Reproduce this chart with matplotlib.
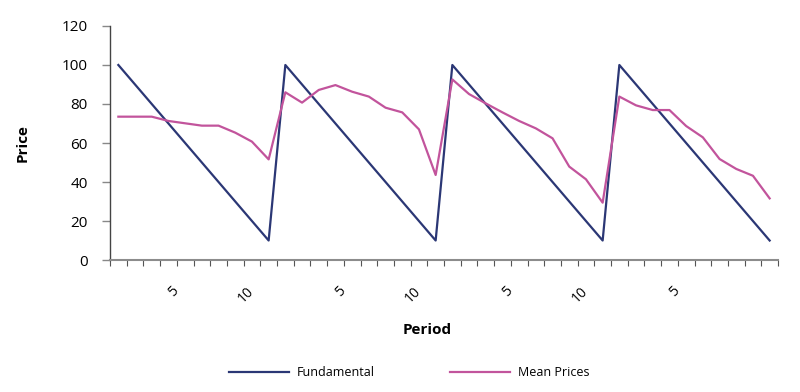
import matplotlib
matplotlib.use("Agg")
import matplotlib.pyplot as plt
from matplotlib.transforms import ScaledTranslation
import numpy as np

plt.rcParams['font.family'] = ['Open Sans', 'DejaVu Sans']

periods = list(range(1, 41))
fundamental = [100, 90, 80, 70, 60, 50, 40, 30, 20, 10] * 4
mean_prices = [73.5, 73.5, 73.5, 71.3, 70.1, 68.9, 68.9, 65.3, 60.7, 51.6,
               86.0, 80.7, 87.2, 89.7, 86.3, 83.8, 78.1, 75.7, 67.0, 43.6,
               92.6, 85.1, 80.3, 75.7, 71.3, 67.5, 62.4, 47.9, 41.4, 29.4,
               83.8, 79.3, 76.9, 76.9, 68.7, 62.9, 51.8, 46.7, 43.2, 31.6]
label_positions = [5, 10, 15, 20, 25, 30, 35]
label_texts = ['5', '10', '5', '10', '5', '10', '5']
y_ticks = [0, 20, 40, 60, 80, 100, 120]

navy = '#2B3775'
pink = '#C2549C'

fig = plt.figure(figsize=(8, 3.92), dpi=100)
ax = fig.add_axes([0.1375, 0.3367, 0.835, 0.597])

ax.plot(periods, fundamental, color=navy, lw=1.6, label='Fundamental')
ax.plot(periods, mean_prices, color=pink, lw=1.6, label='Mean Prices')

ax.set_xlim(0.5, len(periods) + 0.5)
ax.set_ylim(0, 120)
ax.set_yticks(y_ticks)
ax.tick_params(axis='y', labelsize=11, length=6, color='#888888', width=1, pad=10)

ax.set_xticks(label_positions)
ax.set_xticklabels(label_texts, rotation=45, ha='right', va='top', fontsize=10)
ax.tick_params(axis='x', which='major', length=0, pad=0)
ax.set_xticks(np.arange(0.5, len(periods) + 1, 1), minor=True)
ax.tick_params(axis='x', which='minor', length=4, color='#555555', width=0.8, direction='out')

for lab in ax.get_xticklabels():
    n = len(lab.get_text())
    lab.set_transform(lab.get_transform() + ScaledTranslation(-0.08 * n + 0.04, -0.24, fig.dpi_scale_trans))

for s in ['top', 'right']:
    ax.spines[s].set_visible(False)
ax.spines['left'].set_color('#444444')
ax.spines['left'].set_linewidth(1.0)
ax.spines['bottom'].set_color('#8c8c8c')
ax.spines['bottom'].set_linewidth(1.5)

fig.text(0.028, 0.3367 + 0.597 * 0.5, 'Price', rotation=90, ha='center', va='center',
         fontsize=11, fontweight='bold')
fig.text(0.534, 0.158, 'Period', ha='center', va='center', fontsize=11, fontweight='bold')

leg = fig.legend(loc='center', bbox_to_anchor=(0.511, 0.05), ncol=2, frameon=False,
                 fontsize=9, handlelength=4.8, handletextpad=0.64, columnspacing=6)

fig.savefig('out.png', dpi=100)
